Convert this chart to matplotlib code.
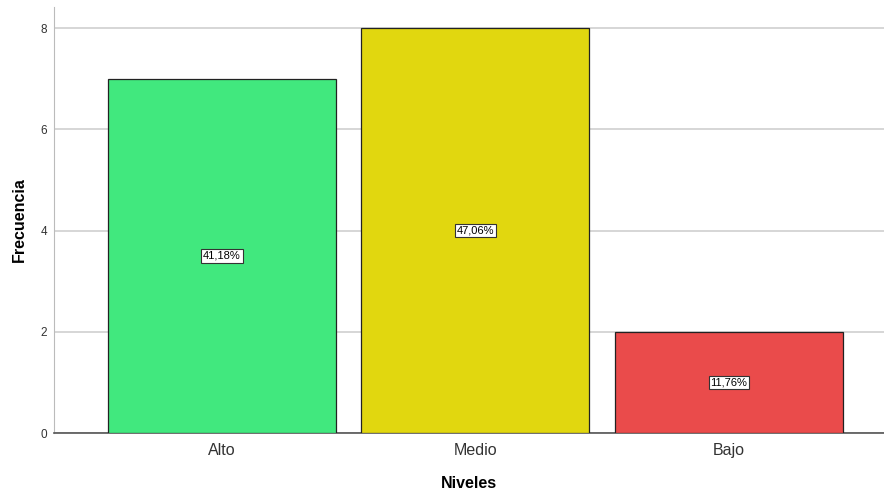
import matplotlib.pyplot as plt

niveles = ["Alto", "Medio", "Bajo"]
frecuencia = [7, 8, 2]
porcentajes = ["41,18%", "47,06%", "11,76%"]
colores = ["#41E87E", "#E1D70F", "#EA4B4B"]

plt.rcParams["font.family"] = ["Liberation Sans", "DejaVu Sans"]

fig = plt.figure(figsize=(8.84, 4.94), dpi=100)
ax = fig.add_axes([54 / 884, 1 - 433 / 494, 830 / 884, 426 / 494])

x = list(range(len(niveles)))
ax.bar(x, frecuencia, width=0.9, color=colores, edgecolor="#222222",
       linewidth=0.9, zorder=3)

for xi, val, txt in zip(x, frecuencia, porcentajes):
    ax.text(xi, val / 2, txt, ha="center", va="center", fontsize=8,
            zorder=4,
            bbox=dict(boxstyle="square,pad=0.15", facecolor="white",
                      edgecolor="#333333", linewidth=0.8))

ax.set_xlim(-0.663, 2.613)
ax.set_ylim(0, 8.42)
ax.set_yticks([0, 2, 4, 6, 8])
ax.set_xticks(x)
ax.set_xticklabels(niveles, fontsize=11.5, color="#333333")
ax.tick_params(axis="y", labelsize=8.5, colors="#333333", length=0, pad=5)
ax.tick_params(axis="x", length=0, pad=7)
ax.yaxis.grid(True, color="#CFCFCF", linewidth=1.2, zorder=0)

for side in ["top", "right"]:
    ax.spines[side].set_visible(False)
ax.spines["left"].set_color("#BBBBBB")
ax.spines["bottom"].set_color("#555555")
ax.spines["bottom"].set_linewidth(1.2)

ax.set_xlabel("Niveles", fontsize=11.5, fontweight="bold", labelpad=13)
ax.set_ylabel("Frecuencia", fontsize=11.5, fontweight="bold", labelpad=10)

fig.savefig("out.png", dpi=100)
